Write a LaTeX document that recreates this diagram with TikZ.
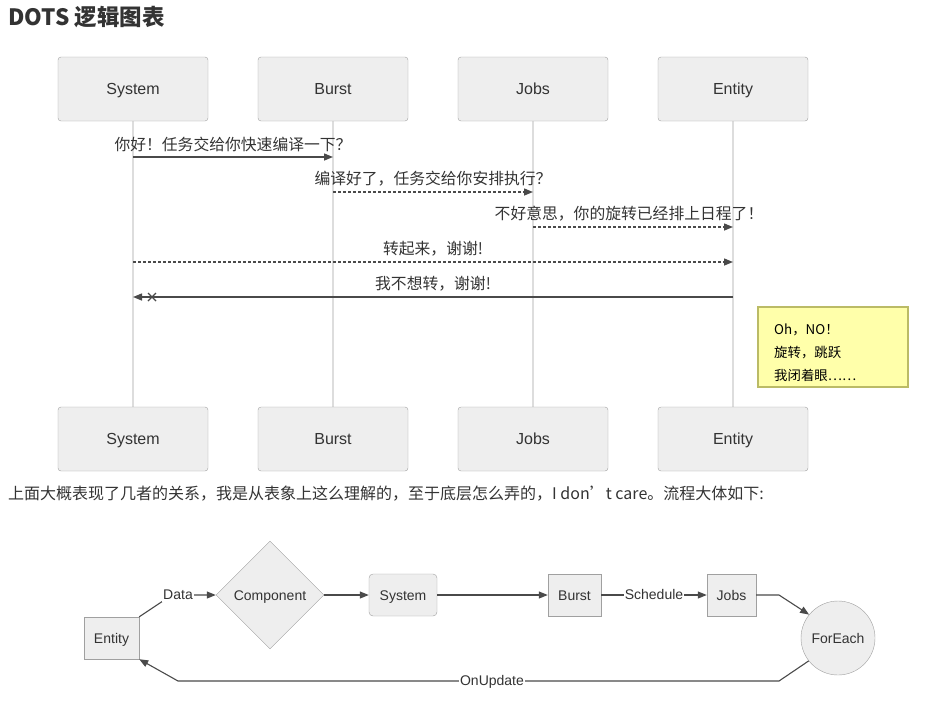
\documentclass[tikz,border=0pt]{standalone}
\usepackage{fontspec}
\setmainfont{Liberation Sans}
\newfontfamily\cjk{Noto Sans CJK SC}
\usetikzlibrary{arrows.meta,shapes.geometric}
\definecolor{txt}{HTML}{333333}
\definecolor{boxfill}{HTML}{EEEEEE}
\definecolor{boxline}{HTML}{A0A0A0}
\definecolor{life}{HTML}{DDDDDD}
\definecolor{lnk}{HTML}{4A4A4A}
\definecolor{notefill}{HTML}{FFFFAA}
\definecolor{noteline}{HTML}{BBBB66}
\tikzset{
  actor/.style={draw=boxline, fill=boxfill, rounded corners=3pt, minimum width=150pt, minimum height=64pt, text=txt, font=\fontsize{16}{18}\selectfont, inner sep=0pt, text height=12pt, text depth=1pt},
  lifeline/.style={draw=life, line width=1.5pt},
  msg/.style={draw=lnk, line width=1.4pt, -{Triangle[length=9pt,width=7pt]}},
  dmsg/.style={msg, dash pattern=on 2.5pt off 2.5pt},
  mtext/.style={text=txt, font=\cjk\fontsize{15.8}{18}\selectfont, inner sep=0pt},
  fbox/.style={draw=boxline, fill=boxfill, text=txt, font=\fontsize{14}{16}\selectfont, inner sep=0pt, text height=10.5pt, text depth=0.5pt},
  flink/.style={draw=lnk, line width=1.1pt, -{Triangle[length=9pt,width=7pt]}},
  flabel/.style={fill=white, text=txt, font=\fontsize{14}{16}\selectfont, inner sep=1pt, text height=10.5pt, text depth=1.5pt},
  notetext/.style={anchor=west, text=black, font=\cjk\fontsize{13.4}{15}\selectfont, inner sep=0pt},
}
\begin{document}
\begin{tikzpicture}[x=1pt,y=-1pt]
\useasboundingbox (0,0) rectangle (925,707);
% title
\node[anchor=west, text=txt, font=\cjk\bfseries\fontsize{22.5}{24}\selectfont, inner sep=0pt] (title) at (8,17) {DOTS 逻辑图表};
% lifelines
\foreach \n/\x in {sys/133,bur/333,job/533,ent/733}{
  \coordinate (\n t) at (\x,121);
  \coordinate (\n b) at (\x,407);
  \draw[lifeline] (\n t) -- (\n b);
}
% actors
\node[actor] (sysA) at (133,89) {System};
\node[actor] (burA) at (333,89) {Burst};
\node[actor] (jobA) at (533,89) {Jobs};
\node[actor] (entA) at (733,89) {Entity};
\node[actor] (sysB) at (133,439) {System};
\node[actor] (burB) at (333,439) {Burst};
\node[actor] (jobB) at (533,439) {Jobs};
\node[actor] (entB) at (733,439) {Entity};
% messages
\coordinate (m1a) at (133,157); \coordinate (m1b) at (333,157);
\draw[msg] (m1a) -- (m1b);
\node[mtext] (t1) at (233,144) {你好！任务交给你快速编译一下？};
\coordinate (m2a) at (333,192); \coordinate (m2b) at (533,192);
\draw[dmsg] (m2a) -- (m2b);
\node[mtext] (t2) at (433,179) {编译好了，任务交给你安排执行？};
\coordinate (m3a) at (533,227); \coordinate (m3b) at (733,227);
\draw[dmsg] (m3a) -- (m3b);
\node[mtext] (t3) at (629,214) {不好意思，你的旋转已经排上日程了！};
\coordinate (m4a) at (133,262); \coordinate (m4b) at (733,262);
\draw[dmsg] (m4a) -- (m4b);
\node[mtext] (t4) at (433,249) {转起来，谢谢!};
\coordinate (m5a) at (733,297); \coordinate (m5b) at (133,297);
\draw[msg] (m5a) -- (m5b);
\draw[draw=lnk, line width=1.1pt] (148,293) -- (156,301) (148,301) -- (156,293);
\node[mtext] (t5) at (433,284) {我不想转，谢谢!};
% note
\node[draw=noteline, fill=notefill, line width=1.2pt, minimum width=150pt, minimum height=80pt, inner sep=0pt] (note) at (833,347) {};
\node[notetext] (n1) at (774,330) {Oh，NO！};
\node[notetext] (n2) at (774,353) {旋转，跳跃};
\node[notetext] (n3) at (774,375) {我闭着眼……};
% paragraph
\node[anchor=west, text=txt, font=\cjk\fontsize{16}{18}\selectfont, inner sep=0pt] (para) at (8,494) {上面大概表现了几者的关系，我是从表象上这么理解的，至于底层怎么弄的，I don’t care。流程大体如下:};
% flowchart
\node[fbox, minimum width=55pt, minimum height=42pt] (fEnt) at (111.5,638) {Entity};
\node[fbox, diamond, minimum width=108pt, minimum height=108pt, aspect=1] (fComp) at (270,595) {Component};
\node[fbox, rounded corners=4pt, minimum width=68pt, minimum height=42pt] (fSys) at (403,595) {System};
\node[fbox, minimum width=53pt, minimum height=42pt] (fBur) at (574.5,595) {Burst};
\node[fbox, minimum width=49pt, minimum height=42pt] (fJob) at (731.5,595) {Jobs};
\node[fbox, circle, minimum size=74pt] (fFor) at (838,638) {ForEach};
\coordinate (c1) at (172,595);
\draw[flink] (fEnt.north east) -- (c1) -- (fComp.west);
\node[flabel] (lData) at (178,595) {Data};
\draw[flink] (fComp.east) -- (fSys.west);
\draw[flink] (fSys.east) -- (fBur.west);
\draw[flink] (fBur.east) -- node[flabel] (lSch) {Schedule} (fJob.west);
\coordinate (c2) at (779,595);
\draw[flink] (fJob.east) -- (c2) -- (fFor.141);
\coordinate (c3) at (779,681);
\coordinate (c4) at (178,681);
\draw[flink] (fFor.218) -- (c3) -- (c4) -- (fEnt.south east);
\node[flabel] (lUpd) at (492,681) {OnUpdate};
\end{tikzpicture}
\end{document}
